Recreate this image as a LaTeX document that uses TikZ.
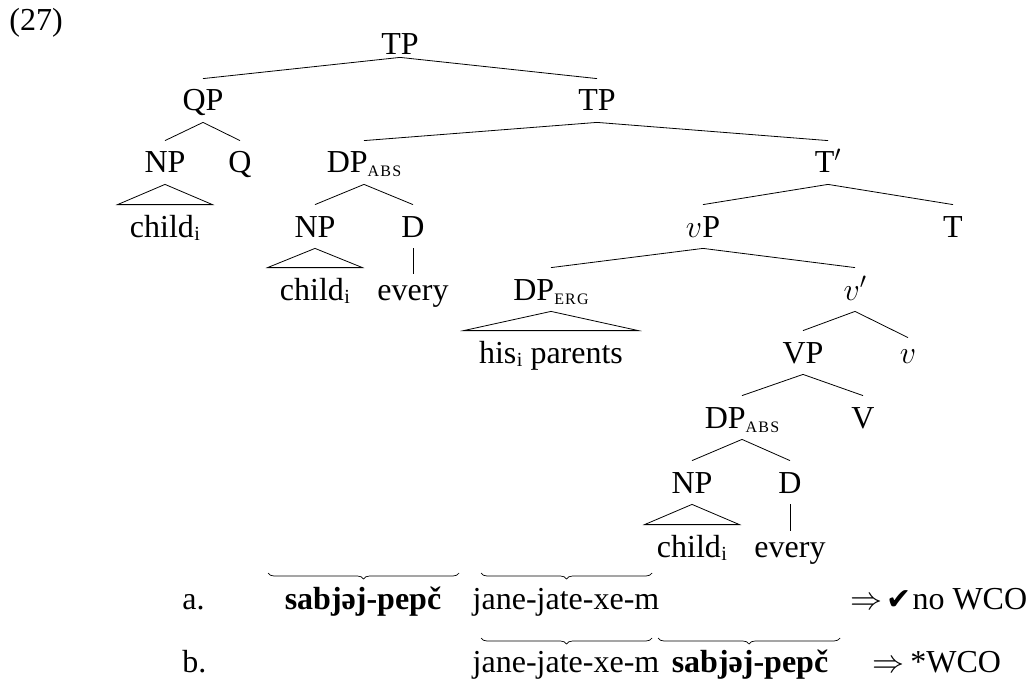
\documentclass[tikz,border=0pt]{standalone}
\usepackage{fix-cm}
\usepackage{fontspec}
\setmainfont{Liberation Serif}
\newfontfamily\symfont{DejaVu Sans}
\usetikzlibrary{decorations.pathreplacing}
\newcommand{\mysub}[1]{\raisebox{-4pt}{\fontsize{16}{16}\selectfont #1}}
\newcommand{\subabs}{\mysub{A\kern1.2pt B\kern1.2pt S}}
\newcommand{\suberg}{\mysub{E\kern1.2pt R\kern1.2pt G}}
\newcommand{\isub}{\kern0.5pt\raisebox{-3.5pt}{\fontsize{20}{20}\selectfont i}}
\begin{document}
\begin{tikzpicture}[x=1pt,y=-1pt, line width=0.8pt,
  every node/.style={font=\fontsize{32}{38}\selectfont},
  tn/.style={anchor=base, inner xsep=0pt, inner ysep=11pt, text height=21pt, text depth=0pt},
  lw/.style={tn, text height=15pt},
  leaf/.style={tn, inner xsep=12pt},
  txt/.style={anchor=base, inner sep=0pt},
  txtw/.style={anchor=base west, inner sep=0pt},
  brc/.style={decorate, decoration={brace, amplitude=6pt, mirror}, line width=0.7pt}]
\useasboundingbox (0,0) rectangle (1030,679);
% example number
\node[txtw] (ex) at (9,31) {(27)};
% tree
\node[tn, inner ysep=2pt] (tp0) at (400,55) {TP};
\node[tn] (qp) at (203,111) {QP};
\node[tn] (tp1) at (597,111) {TP};
\node[tn] (np1) at (165,173) {NP};
\node[tn] (q) at (240,173) {Q};
\node[tn] (dpa1) at (364,173) {DP\subabs};
\node[tn] (tb) at (828,173) {T$'$};
\node[leaf] (ch1) at (165,237) {child\isub};
\node[tn] (np2) at (315,237) {NP};
\node[tn] (d2) at (413,237) {D};
\node[tn] (vp) at (703,237) {$v$P};
\node[tn] (t) at (953,237) {T};
\node[leaf] (ch2) at (315,300) {child\isub};
\node[lw] (ev2) at (413,300) {every};
\node[tn] (dpe) at (551,300) {DP\suberg};
\node[tn] (vb) at (855,300) {$v'$};
\node[leaf, inner xsep=15pt] (hp) at (551,363) {his\isub{} parents};
\node[tn] (vvp) at (803,363) {VP};
\node[lw, text height=14pt] (v) at (908,363) {$v$};
\node[tn] (dpa2) at (742,428) {DP\subabs};
\node[tn] (vv) at (863,428) {V};
\node[tn] (np3) at (692,493) {NP};
\node[tn] (d3) at (790,493) {D};
\node[leaf] (ch3) at (692,557) {child\isub};
\node[lw] (ev3) at (790,557) {every};
% branches
\draw (tp0.south) -- (qp.north);
\draw (tp0.south) -- (tp1.north);
\draw (qp.south) -- (np1.north);
\draw (qp.south) -- (q.north);
\draw (tp1.south) -- (dpa1.north);
\draw (tp1.south) -- (tb.north);
\draw (np1.south) -- (ch1.north west) -- (ch1.north east) -- cycle;
\draw (dpa1.south) -- (np2.north);
\draw (dpa1.south) -- (d2.north);
\draw (np2.south) -- (ch2.north west) -- (ch2.north east) -- cycle;
\draw (d2.south) -- (ev2.north);
\draw (tb.south) -- (vp.north);
\draw (tb.south) -- (t.north);
\draw (vp.south) -- (dpe.north);
\draw (vp.south) -- (vb.north);
\draw (dpe.south) -- (hp.north west) -- (hp.north east) -- cycle;
\draw (vb.south) -- (vvp.north);
\draw (vb.south) -- (v.north);
\draw (vvp.south) -- (dpa2.north);
\draw (vvp.south) -- (vv.north);
\draw (dpa2.south) -- (np3.north);
\draw (dpa2.south) -- (d3.north);
\draw (np3.south) -- (ch3.north west) -- (ch3.north east) -- cycle;
\draw (d3.south) -- (ev3.north);
% line a
\node[txtw] (la) at (182,609) {a.};
\node[txt] (sa) at (363,609) {\bfseries sabjəj-pepč};
\node[txt] (ja) at (566,609) {jane-jate-xe-m};
\node[txtw] (ra) at (850,609) {$\Rightarrow$\hspace{4pt}{\symfont\fontsize{30}{30}\selectfont ✔}\kern1pt no WCO};
% line b
\node[txtw] (lb) at (182,672) {b.};
\node[txt] (jb) at (566,672) {jane-jate-xe-m};
\node[txt] (sb) at (750,672) {\bfseries sabjəj-pepč};
\node[txtw] (rb) at (872,672) {$\Rightarrow$\hspace{6pt}*WCO};
% braces
\coordinate (a1l) at (268,573); \coordinate (a1r) at (459,573);
\coordinate (a2l) at (481,573); \coordinate (a2r) at (652,573);
\coordinate (b1l) at (481,638); \coordinate (b1r) at (652,638);
\coordinate (b2l) at (658,638); \coordinate (b2r) at (840,638);
\draw[brc] (a1l) -- (a1r);
\draw[brc] (a2l) -- (a2r);
\draw[brc] (b1l) -- (b1r);
\draw[brc] (b2l) -- (b2r);
\end{tikzpicture}
\end{document}
